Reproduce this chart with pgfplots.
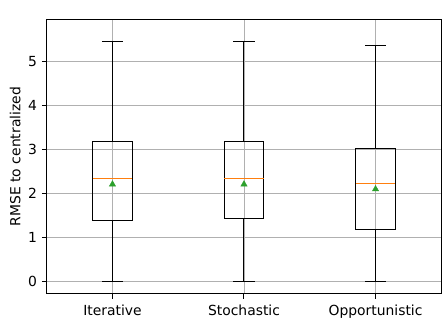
\documentclass[border=0pt]{standalone}
\usepackage{fontspec}
\setmainfont{DejaVu Sans}
\usepackage{pgfplots}
\pgfplotsset{compat=1.18}
\usepgfplotslibrary{statistics}
\definecolor{mplorange}{HTML}{FF7F0E}
\definecolor{mplgreen}{HTML}{2CA02C}
\definecolor{gridgray}{HTML}{B0B0B0}
\begin{document}
\fontsize{13.9bp}{16bp}\selectfont
\begin{tikzpicture}
\begin{axis}[
  scale only axis,
  width=394.7bp, height=274.7bp,
  xmin=0.5, xmax=3.5,
  ymin=-0.29, ymax=5.95,
  xtick={1,2,3},
  xticklabels={Iterative,Stochastic,Opportunistic},
  ytick={0,1,2,3,4,5},
  tick pos=left,
  tick align=outside,
  major tick length=4.9bp,
  every tick/.style={black, line width=1bp},
  axis line style={line width=1bp, black},
  grid=major,
  major grid style={gridgray, line width=0.9bp},
  /pgf/number format/assume math mode=true,
  ticklabel style={font=\fontsize{13.9bp}{16bp}\selectfont},
  xticklabel style={yshift=-1bp},
  ylabel={RMSE to centralized},
  ylabel style={font=\fontsize{13.9bp}{16bp}\selectfont, yshift=-2bp},
  boxplot/draw direction=y,
  boxplot/box extend=0.3,
  boxplot/whisker extend=0.16,
  boxplot/every median/.style={draw=mplorange, line width=1bp},
  boxplot/every box/.style={draw=black, line width=1bp},
  boxplot/every whisker/.style={draw=black, line width=1bp},
]
\addplot[black, line width=1bp, boxplot prepared={draw position=1,
  lower whisker=0, lower quartile=1.37, median=2.34, upper quartile=3.17, upper whisker=5.455}] coordinates {};
\addplot[black, line width=1bp, boxplot prepared={draw position=2,
  lower whisker=0, lower quartile=1.416, median=2.34, upper quartile=3.17, upper whisker=5.455}] coordinates {};
\addplot[black, line width=1bp, boxplot prepared={draw position=3,
  lower whisker=0, lower quartile=1.17, median=2.23, upper quartile=3.02, upper whisker=5.36}] coordinates {};
\addplot[only marks, mark=triangle*, mark size=3.6bp, mark options={fill=mplgreen, draw=mplgreen, line width=0.5bp}]
  coordinates {(1,2.2) (2,2.2) (3,2.09)};
\end{axis}
\useasboundingbox ([xshift=-46.7bp,yshift=-24bp]current axis.south west) rectangle ([xshift=4.7bp,yshift=19.3bp]current axis.north east);
\end{tikzpicture}
\end{document}
